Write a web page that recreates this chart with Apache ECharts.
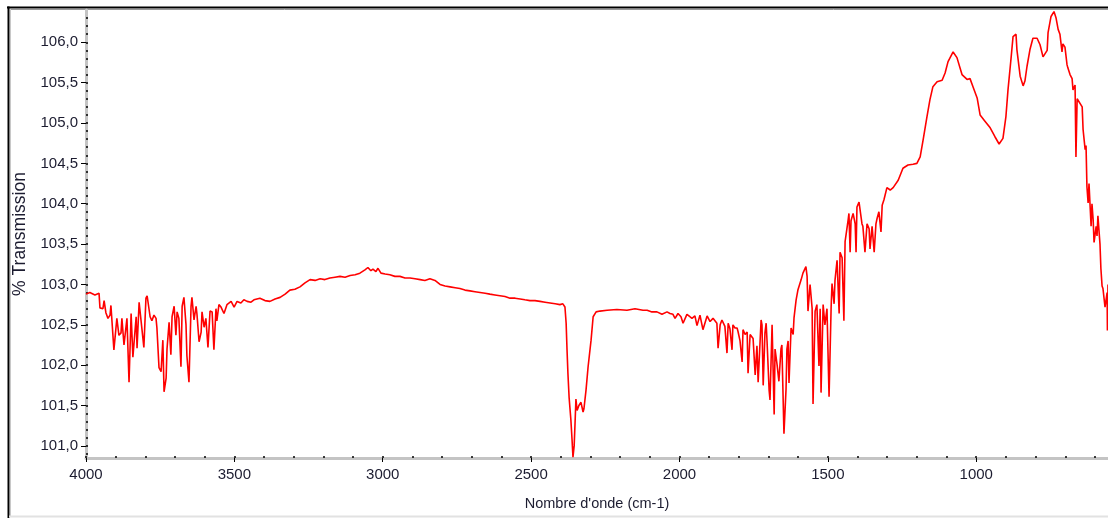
<!DOCTYPE html>
<html>
<head>
<meta charset="utf-8">
<script src="https://cdn.jsdelivr.net/npm/echarts@6/dist/echarts.min.js"></script>
<style>
html,body{margin:0;padding:0;background:#fff;}
#chart{width:1108px;height:518px;}
</style>
</head>
<body>
<div id="chart"></div>
<script>
// Wavenumber (cm-1)
var wavenumbers = [
4000,3987,3970,3956,3953,3943,3939,3933,3926,3919,3916,3906,3896,3889,3882,3879,3872,3862,3855,3848,
3842,3831,3828,3821,3815,3805,3798,3794,3784,3778,3771,3764,3761,3754,3747,3741,3737,3730,3727,3720,
3714,3710,3703,3697,3693,3687,3680,3676,3670,3663,3660,3653,3646,3643,3636,3629,3626,3619,3612,3609,
3602,3596,3589,3582,3575,3569,3562,3559,3552,3545,3535,3525,3511,3501,3491,3478,3468,3457,3444,3434,
3414,3397,3380,3363,3346,3329,3313,3296,3279,3262,3245,3228,3211,3195,3178,3161,3144,3127,3110,3093,
3077,3060,3050,3040,3033,3023,3016,3006,2992,2976,2959,2942,2925,2908,2891,2874,2858,2841,2824,2807,
2790,2773,2756,2740,2723,2706,2689,2672,2655,2639,2622,2605,2588,2571,2554,2537,2521,2504,2487,2470,
2453,2436,2419,2403,2393,
2386,2382,2379,2376,2372,2366,2362,2359,2355,2352,2349,2345,2339,2332,2325,2322,2315,2308,2298,2291,
2281,2268,2244,2211,2177,2150,2123,2109,2093,2076,2059,2042,2032,2022,2015,2005,1995,1988,1975,1965,
1958,1948,1941,1931,1921,1907,1897,1887,1874,1870,1863,1857,1853,1847,1840,1836,1830,1823,1820,1813,
1806,1803,1796,1789,1786,1779,1772,1769,1762,1752,1745,1739,1735,1725,1722,1718,1712,1708,1705,1698,
1695,1688,1681,1678,1671,1665,1658,1655,1648,1641,1638,1634,1631,1624,1617,1614,1607,1601,1590,1584,
1574,1570,1567,1560,1553,1550,1543,1537,1530,1526,1523,1516,1510,1503,1496,1489,1486,1479,1476,1469,
1462,1459,1452,1446,1442,1432,1429,1425,1422,1415,1408,1405,1402,1395,1385,1382,1375,1368,1361,1358,
1351,1344,1338,1334,1328,1321,1317,1311,1301,1290,1280,1263,1247,1230,1213,1200,1189,1179,1166,1156,
1146,1132,1115,1105,1095,1078,1065,1048,1031,1021,1011,997,987,970,953,937,923,910,900,893,
883,876,866,863,852,842,836,829,819,809,795,785,775,761,758,748,738,731,724,718,
711,708,701,694,691,684,677,674,667,664,660,654,643,640,637,633,630,627,623,620,
613,610,606,603,596,593,590,583,580,576,573,566,559,558,556
];
// % Transmission
var transmission = [
102.88,102.90,102.87,102.89,102.71,102.70,102.80,102.65,102.58,102.62,102.74,102.19,102.58,102.37,102.40,102.58,102.25,102.58,101.79,102.64,
102.10,102.60,102.21,102.78,102.80,102.22,102.83,102.86,102.60,102.55,102.62,102.58,102.46,101.97,101.92,102.31,101.67,101.84,102.20,102.53,
102.13,102.60,102.73,102.37,102.66,102.58,101.98,102.73,102.84,102.50,102.12,101.79,102.73,102.84,102.56,102.73,102.63,102.29,102.41,102.66,
102.47,102.58,102.22,102.67,102.66,102.19,102.70,102.55,102.75,102.72,102.64,102.75,102.79,102.72,102.79,102.77,102.81,102.79,102.78,102.81,
102.83,102.80,102.79,102.82,102.84,102.88,102.93,102.94,102.97,103.02,103.06,103.05,103.07,103.06,103.08,103.09,103.10,103.09,103.11,103.12,
103.14,103.18,103.21,103.17,103.19,103.16,103.20,103.14,103.13,103.12,103.10,103.10,103.08,103.08,103.07,103.06,103.05,103.07,103.05,103.00,
102.98,102.97,102.96,102.95,102.93,102.92,102.91,102.90,102.89,102.88,102.87,102.86,102.85,102.83,102.83,102.82,102.81,102.80,102.80,102.79,
102.78,102.77,102.76,102.75,102.76,
102.72,102.52,102.19,101.90,101.60,101.32,101.07,100.86,101.00,101.28,101.58,101.44,101.50,101.54,101.42,101.46,101.69,101.98,102.31,102.60,
102.66,102.67,102.68,102.69,102.68,102.70,102.68,102.68,102.66,102.66,102.63,102.66,102.64,102.63,102.58,102.64,102.60,102.52,102.63,102.60,
102.58,102.61,102.49,102.62,102.44,102.61,102.54,102.58,102.52,102.21,102.50,102.56,102.57,102.48,102.15,102.52,102.45,102.19,102.50,102.46,
102.46,102.42,102.30,102.04,102.44,102.38,102.41,101.90,102.38,102.33,101.88,102.24,101.79,102.56,102.50,101.75,102.40,102.52,102.30,101.69,
101.57,102.50,101.39,102.20,102.00,101.80,102.20,102.25,101.15,101.70,102.20,102.30,101.78,102.46,102.38,102.59,102.81,102.93,103.06,103.14,
103.22,103.10,102.67,103.00,102.70,101.52,102.67,102.75,101.99,102.70,101.66,102.75,102.50,102.70,101.61,102.72,103.01,102.76,103.05,103.30,
102.64,103.40,103.33,102.55,103.53,103.79,103.88,103.40,103.79,103.88,103.75,103.40,103.96,104.02,103.75,103.72,103.40,103.75,103.69,103.44,
103.72,103.40,103.75,103.82,103.90,103.65,103.98,104.05,104.20,104.17,104.20,104.29,104.44,104.48,104.49,104.50,104.58,104.79,105.08,105.29,
105.45,105.51,105.53,105.62,105.76,105.88,105.81,105.60,105.54,105.55,105.45,105.31,105.10,105.02,104.94,104.83,104.74,104.81,105.08,105.41,
105.79,106.07,106.10,105.91,105.58,105.46,105.52,105.70,105.91,106.05,106.05,105.97,105.82,105.90,106.12,106.32,106.38,106.30,106.16,106.10,
105.88,105.98,105.94,105.72,105.68,105.60,105.55,105.41,105.47,104.58,105.30,105.29,105.20,104.92,104.90,104.67,104.72,104.21,104.01,104.25,
103.72,104.00,103.80,103.52,103.72,103.60,103.85,103.50,103.20,102.98,102.95,102.72,102.90,102.43,103.00
];
var xMajorTicks = [1000,1500,2000,2500,3000,3500,4000];
var xMinorTicks = [600,700,800,900,1000,1100,1200,1300,1400,1500,1600,1700,1800,1900,2000,2100,2200,2300,2400,2500,2600,2700,2800,2900,3000,3100,3200,3300,3400,3500,3600,3700,3800,3900,4000];
var yMajorTicks = [101.0,101.5,102.0,102.5,103.0,103.5,104.0,104.5,105.0,105.5,106.0];
var yMinorTicks = [100.9,101.0,101.1,101.2,101.3,101.4,101.5,101.6,101.7,101.8,101.9,102.0,102.1,102.2,102.3,102.4,102.5,102.6,102.7,102.8,102.9,103.0,103.1,103.2,103.3,103.4,103.5,103.6,103.7,103.8,103.9,104.0,104.1,104.2,104.3,104.4,104.5,104.6,104.7,104.8,104.9,105.0,105.1,105.2,105.3,105.4,105.5,105.6,105.7,105.8,105.9,106.0,106.1,106.2,106.3];

var points = wavenumbers.map(function(w, i){ return [w, transmission[i]]; });

var FONT = "'Liberation Sans',Arial,sans-serif";
var TXT = '#1c1c30';
var X_MIN = 556, X_MAX = 4000, Y_MIN = 100.85, Y_MAX = 106.4;

var chart = echarts.init(document.getElementById('chart'), null, {renderer: 'canvas'});
chart.setOption({
  animation: false,
  backgroundColor: '#ffffff',
  grid: {left: 86, right: 0, top: 10, bottom: 60, containLabel: false},
  graphic: [
    {type: 'line', shape: {x1: 7, y1: 7.5, x2: 1108, y2: 7.5}, style: {stroke: '#000', lineWidth: 2}, silent: true},
    {type: 'line', shape: {x1: 10, y1: 9.5, x2: 1108, y2: 9.5}, style: {stroke: '#9a9a9a', lineWidth: 1}, silent: true},
    {type: 'line', shape: {x1: 8.5, y1: 6.5, x2: 8.5, y2: 518}, style: {stroke: '#000', lineWidth: 2}, silent: true},
    {type: 'line', shape: {x1: 10.5, y1: 9, x2: 10.5, y2: 516}, style: {stroke: '#c8c8c8', lineWidth: 1}, silent: true},
    {type: 'line', shape: {x1: 9, y1: 516.5, x2: 1108, y2: 516.5}, style: {stroke: '#e2e2e2', lineWidth: 2}, silent: true}
  ],
  xAxis: [
    {
      type: 'value', min: X_MIN, max: X_MAX, inverse: true, position: 'bottom',
      name: "Nombre d'onde (cm-1)", nameLocation: 'middle', nameGap: 38,
      nameTextStyle: {fontFamily: FONT, fontSize: 14.5, color: TXT, verticalAlign: 'top'},
      axisLine: {show: true, lineStyle: {color: '#c4c4c4', width: 3}},
      axisTick: {show: true, customValues: xMajorTicks, length: 4, inside: false, lineStyle: {color: '#000', width: 1}},
      axisLabel: {show: true, customValues: xMajorTicks, margin: 9, fontFamily: FONT, fontSize: 15, color: TXT,
        formatter: function(v){ return String(Math.round(v)); }},
      splitLine: {show: false}
    },
    {
      type: 'value', min: X_MIN, max: X_MAX, inverse: true, position: 'bottom',
      axisLine: {show: false},
      axisTick: {show: true, customValues: xMinorTicks, length: 2, inside: true, lineStyle: {color: '#000', width: 1.5}},
      axisLabel: {show: false},
      splitLine: {show: false}
    }
  ],
  yAxis: [
    {
      type: 'value', min: Y_MIN, max: Y_MAX, position: 'left',
      name: '% Transmission', nameLocation: 'middle', nameGap: 53,
      nameTextStyle: {fontFamily: FONT, fontSize: 17.5, color: TXT},
      axisLine: {show: true, lineStyle: {color: '#c4c4c4', width: 3}},
      axisTick: {show: true, customValues: yMajorTicks, length: 5, inside: false, lineStyle: {color: '#000', width: 1}},
      axisLabel: {show: true, customValues: yMajorTicks, margin: 8, fontFamily: FONT, fontSize: 15, color: TXT,
        formatter: function(v){ return v.toFixed(1).replace('.', ','); }},
      splitLine: {show: false}
    },
    {
      type: 'value', min: Y_MIN, max: Y_MAX, position: 'left',
      axisLine: {show: false},
      axisTick: {show: true, customValues: yMinorTicks, length: 2, inside: true, lineStyle: {color: '#000', width: 1.5}},
      axisLabel: {show: false},
      splitLine: {show: false}
    }
  ],
  series: [{
    type: 'line', xAxisIndex: 0, yAxisIndex: 0,
    data: points, showSymbol: false, symbol: 'none', smooth: false,
    lineStyle: {color: '#ff0000', width: 1.6},
    clip: true
  }]
});
</script>
</body>
</html>
